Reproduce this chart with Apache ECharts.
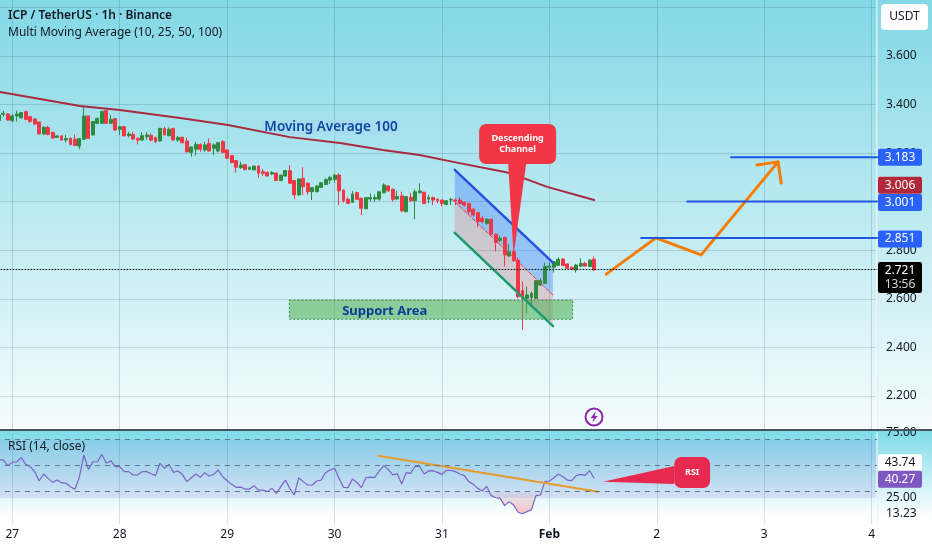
<!DOCTYPE html>
<html><head><meta charset="utf-8">
<style>html,body{margin:0;padding:0;background:#fff}#c{width:932px;height:550px}</style>
<script src="https://cdn.jsdelivr.net/npm/echarts@6/dist/echarts.min.js"></script>
</head><body><div id="c"></div>
<script>
// hours are counted from 27 Jan 00:00
const dayLabels = ['27','28','29','30','31','Feb','2','3','4'];
const firstHour = -3;
const candles = [
[3.334,3.357,3.334,3.364],[3.360,3.364,3.350,3.374],[3.361,3.336,3.334,3.364],[3.334,3.353,3.328,3.361],[3.353,3.361,3.330,3.375],
[3.345,3.367,3.343,3.369],[3.371,3.339,3.336,3.375],[3.350,3.330,3.325,3.354],[3.341,3.320,3.318,3.344],[3.328,3.279,3.277,3.330],
[3.279,3.306,3.275,3.312],[3.306,3.277,3.273,3.312],[3.286,3.262,3.260,3.288],[3.265,3.271,3.262,3.273],[3.271,3.254,3.252,3.273],
[3.254,3.260,3.243,3.275],[3.261,3.236,3.234,3.265],[3.257,3.232,3.229,3.277],[3.229,3.260,3.216,3.262],[3.257,3.353,3.255,3.391],
[3.353,3.261,3.258,3.355],[3.275,3.330,3.273,3.332],[3.323,3.343,3.320,3.346],[3.323,3.372,3.320,3.374],[3.375,3.323,3.321,3.378],
[3.323,3.339,3.320,3.357],[3.342,3.295,3.293,3.344],[3.298,3.309,3.275,3.312],[3.309,3.271,3.269,3.312],[3.273,3.279,3.265,3.288],
[3.277,3.258,3.255,3.288],[3.261,3.254,3.236,3.264],[3.254,3.272,3.250,3.286],[3.268,3.275,3.255,3.286],[3.273,3.254,3.250,3.282],
[3.264,3.247,3.243,3.268],[3.250,3.302,3.248,3.304],[3.302,3.275,3.273,3.309],[3.272,3.298,3.269,3.306],[3.301,3.254,3.252,3.306],
[3.254,3.264,3.246,3.271],[3.265,3.243,3.241,3.268],[3.250,3.205,3.203,3.264],[3.203,3.225,3.185,3.227],[3.216,3.236,3.190,3.247],
[3.236,3.216,3.206,3.240],[3.213,3.234,3.206,3.247],[3.240,3.209,3.206,3.261],[3.220,3.234,3.192,3.240],[3.209,3.243,3.203,3.247],
[3.247,3.203,3.199,3.254],[3.213,3.179,3.176,3.216],[3.190,3.161,3.158,3.192],[3.169,3.142,3.120,3.172],[3.140,3.151,3.136,3.165],
[3.153,3.133,3.129,3.155],[3.133,3.142,3.131,3.144],[3.131,3.147,3.129,3.149],[3.147,3.117,3.098,3.150],[3.124,3.117,3.106,3.135],
[3.120,3.106,3.103,3.126],[3.114,3.120,3.109,3.126],[3.118,3.087,3.085,3.121],[3.087,3.109,3.085,3.112],[3.106,3.129,3.103,3.131],
[3.128,3.076,3.073,3.151],[3.087,3.028,3.010,3.089],[3.028,3.094,3.025,3.097],[3.096,3.062,3.028,3.142],[3.076,3.041,3.028,3.080],
[3.041,3.058,3.007,3.060],[3.041,3.065,3.039,3.067],[3.059,3.078,3.057,3.080],[3.071,3.092,3.069,3.096],[3.089,3.100,3.073,3.106],
[3.092,3.109,3.078,3.114],[3.110,3.045,2.986,3.117],[3.048,3.004,2.996,3.050],[3.010,2.993,2.990,3.018],[2.997,3.032,2.996,3.045],
[3.037,3.010,3.008,3.041],[3.014,2.973,2.945,3.018],[2.971,3.017,2.969,3.019],[3.011,3.017,3.000,3.034],[3.011,3.017,3.000,3.030],
[3.011,3.041,3.004,3.043],[3.037,3.069,3.034,3.076],[3.065,3.045,3.041,3.069],[3.051,3.010,3.000,3.055],[3.011,3.021,3.010,3.045],
[3.024,2.962,2.959,3.041],[2.959,3.021,2.957,3.023],[3.018,3.004,3.000,3.037],[3.004,3.041,2.928,3.051],[3.037,3.044,3.034,3.076],
[3.039,2.993,2.990,3.041],[3.011,3.017,2.993,3.028],[3.017,3.007,2.986,3.021],[3.010,3.004,2.993,3.014],[3.007,2.993,2.982,3.010],
[2.989,3.004,2.986,3.007],[3.007,3.010,2.986,3.017],[3.007,3.003,2.986,3.014],[3.007,2.993,2.989,3.018],[2.998,2.986,2.980,3.000],
[2.993,2.959,2.949,2.996],[2.969,2.945,2.938,2.973],[2.955,2.918,2.895,2.958],[2.932,2.918,2.911,2.941],[2.911,2.928,2.905,2.932],
[2.928,2.866,2.863,2.930],[2.866,2.831,2.795,2.870],[2.840,2.849,2.834,2.859],[2.853,2.781,2.733,2.856],[2.776,2.794,2.774,2.826],
[2.794,2.757,2.753,2.800],[2.760,2.609,2.602,2.771],[2.634,2.602,2.472,2.671],[2.602,2.616,2.540,2.650],[2.606,2.623,2.579,2.630],
[2.602,2.675,2.600,2.677],[2.657,2.675,2.653,2.685],[2.664,2.733,2.661,2.749],[2.730,2.735,2.716,2.749],[2.730,2.753,2.708,2.755],
[2.738,2.763,2.735,2.771],[2.764,2.737,2.735,2.767],[2.744,2.726,2.723,2.746],[2.730,2.722,2.719,2.733],[2.719,2.739,2.708,2.744],
[2.735,2.746,2.730,2.767],[2.746,2.735,2.733,2.753],[2.733,2.760,2.731,2.762],[2.763,2.719,2.716,2.774]
];
const rsiValues = [
54.7,54.2,49.9,52.4,52.9,56.0,50.9,49.1,45.3,38.1,43.5,40.1,37.0,38.8,36.8,36.3,33.7,31.7,41.4,58.1,
47.0,52.9,52.9,58.6,51.7,53.7,49.1,49.1,45.3,45.3,42.7,42.7,45.3,45.3,43.7,42.2,51.7,47.8,50.9,44.7,
45.8,43.2,37.6,40.6,43.5,40.9,44.5,41.9,43.2,46.5,41.4,38.3,35.5,33.2,33.4,31.9,31.9,34.5,31.1,31.1,
29.9,32.4,28.6,33.7,38.8,32.4,27.3,40.6,37.6,35.0,35.0,38.1,38.8,44.5,46.5,47.8,40.1,33.2,33.0,39.6,
37.0,33.0,40.6,40.9,40.9,45.8,49.9,47.0,42.7,43.7,35.8,44.5,44.0,49.4,49.4,43.5,45.8,46.0,44.7,43.2,
46.3,46.3,45.3,43.5,42.2,37.6,35.5,32.4,30.4,34.0,26.8,25.2,24.7,19.1,22.2,19.6,14.0,12.9,14.5,16.0,
26.8,27.3,37.6,38.1,40.6,43.5,41.4,38.8,38.3,42.2,43.2,42.4,46.0,40.1
];
const ma100 = [[-2.75,3.452],[6.2,3.423],[15.1,3.394],[24,3.378],[37.5,3.345],[48.2,3.316],[62,3.266],[73.2,3.242],[82.8,3.213],[91,3.192],[98.5,3.164],[111.2,3.118],[119.5,3.061],[130,3.007]];
const channelTop = [[98.86,3.131],[120.8,2.749]];
const channelMid = [[98.86,3.0],[120.8,2.616]];
const channelBottom = [[98.86,2.872],[120.8,2.488]];
const supportZone = [[61.9,2.595],[125.2,2.516]];
const forecastPath = [[132.7,2.702],[143.8,2.851],[153.9,2.781],[171.1,3.164]];
const arrowHead = [[166.4,3.151],[171.1,3.164],[171.8,3.077]];
const levels = [[160.6,3.183],[150.8,3.001],[140.5,2.851]];
const lastPrice = 2.721;
const rsiTrend = [[81.8,57.5],[130.9,29.85]];
const rsiGuides = [70,50,30];
const rsiBand = [70,25];
const rsiAxisTicks = [75,25,13.23];
const hiddenPriceTicks = [2,3.8,4];
const priceTags = [[3.183,'3.183','#2962ff',0],[3.006,'3.006','#b2283a',-15],[3.001,'3.001','#2962ff',1],[2.851,'2.851','#2962ff',1]];
const rsiTags = [[43.74,'43.74','#ffffff','#131722',-11],[40.27,'40.27','#7e57c2','#ffffff',1]];
const calloutChannel = {box:[[104.3,3.32],[121.5,3.155]],tri:[[110.8,3.155],[114.8,3.155],[112,2.78]],lines:['Descending','Channel']};
const calloutRsi = {box:[[147.9,56.5],[155.9,32.7]],tri:[[147.9,49.6],[147.9,35.8],[132,37.5]],lines:['RSI']};

const xMin=-24, xMax=193.2, FONT='"Noto Sans",sans-serif', INK='#131722';
const GRID='rgba(50,85,105,0.2)';
const chart = echarts.init(document.getElementById('c'),null,{renderer:'canvas'});
const gradient=(stops)=>new echarts.graphic.LinearGradient(0,0,0,1,stops.map(([o,c])=>({offset:o,color:c})));

function custom(z,axis,render){
  return {type:'custom',z,xAxisIndex:axis,yAxisIndex:axis,silent:true,data:[[0,axis?50:3]],
    encode:{x:0,y:1},renderItem:(p,api)=>render(api)};
}
function polygon(pts,style,z){return custom(z,0,api=>({type:'polygon',shape:{points:pts.map(q=>api.coord(q))},style}));}
function seg(pts,axis,color,width,z,type){
  return {type:'line',xAxisIndex:axis,yAxisIndex:axis,data:pts,showSymbol:false,silent:true,z,
    lineStyle:{color,width,type:type||'solid',cap:'round',join:'round'},animation:false};
}
function callout(c,axis,color,fs){
  return custom(5,axis,api=>{
    const a=api.coord(c.box[0]),b=api.coord(c.box[1]);
    const ch=[{type:'polygon',shape:{points:c.tri.map(q=>api.coord(q))},style:{fill:color}},
      {type:'rect',shape:{x:a[0],y:a[1],width:b[0]-a[0],height:b[1]-a[1],r:7},style:{fill:color}}];
    c.lines.forEach((t,i)=>ch.push({type:'text',style:{text:t,x:(a[0]+b[0])/2,y:(a[1]+b[1])/2+(i-(c.lines.length-1)/2)*10.5,
      align:'center',verticalAlign:'middle',fill:'#fff',font:'bold '+fs+'px '+FONT}}));
    return {type:'group',children:ch};
  });
}
function tag(axis,val,text,bg,fg,dy,h,sub){
  return custom(6,axis,api=>{
    const y=api.coord([xMax,val])[1]+dy, x=api.coord([xMax,val])[0]+1;
    const ch=[{type:'rect',shape:{x,y:y-8.5,width:44,height:h||17,r:2},style:{fill:bg}},
      {type:'text',style:{text,x:x+22,y:y,align:'center',verticalAlign:'middle',fill:fg,font:'12px '+FONT}}];
    if(sub)ch.push({type:'text',style:{text:sub,x:x+22,y:y+14.5,align:'center',verticalAlign:'middle',fill:'#d6d6d6',font:'12px '+FONT}});
    return {type:'group',children:ch};
  });
}
function label(pt,text,color,font,bg){
  return custom(4,0,api=>{const p=api.coord(pt);
    return {type:'text',style:{text,x:p[0],y:p[1],align:'center',verticalAlign:'middle',fill:color,font,backgroundColor:bg,padding:bg?[1,2]:0}};});
}

const series=[
  polygon([channelTop[0],channelTop[1],channelMid[1],channelMid[0]],{fill:'rgba(41,98,255,0.3)'},1),
  polygon([channelMid[0],channelMid[1],channelBottom[1],channelBottom[0]],{fill:'rgba(242,54,69,0.2)'},1),
  {type:'candlestick',name:'ICP / TetherUS',xAxisIndex:0,yAxisIndex:0,z:2,barWidth:3.4,silent:true,
   data:candles.map((c,i)=>[i+firstHour,c[0],c[1],c[2],c[3]]),encode:{x:0,y:[1,2,3,4]},
   itemStyle:{color:'#2e8b3e',color0:'#f23645',borderColor:'#2e8b3e',borderColor0:'#f23645',borderWidth:1}},
  custom(3,0,api=>{const a=api.coord(supportZone[0]),b=api.coord(supportZone[1]);
    return {type:'rect',shape:{x:a[0],y:a[1],width:b[0]-a[0],height:b[1]-a[1]},
      style:{fill:'rgba(76,175,80,0.55)',stroke:'#3d8b45',lineWidth:1,lineDash:[2,2]}};}),
  seg(ma100,0,'#a82a3c',2,4),
  seg(channelTop,0,'#2a50e0',2.5,4),
  seg(channelBottom,0,'#1d9a6c',2.5,4),
  seg(channelMid,0,'#f23645',1,4,'dashed'),
  seg(forecastPath,0,'#f57c00',3,4),
  seg(arrowHead,0,'#f57c00',3,4),
  ...levels.map(l=>seg([[l[0],l[1]],[xMax,l[1]]],0,'#1f57e0',2,4)),
  seg([[xMin,lastPrice],[xMax,lastPrice]],0,'#131722',1,4,[1,2]),
  label([83.2,2.55],'Support Area','#0d3c96','bold 13px '+FONT),
  label([71.2,3.308],'Moving Average 100','#0d47a1','600 13.5px '+FONT,'rgba(170,210,240,0.45)'),
  callout(calloutChannel,0,'#f23645',9),
  ...priceTags.map(t=>tag(0,t[0],t[1],t[2],'#fff',t[3])),
  tag(0,lastPrice,'2.721','#000','#fff',1,31,'13:56'),
  // RSI pane
  {type:'line',xAxisIndex:1,yAxisIndex:1,z:3,silent:true,showSymbol:false,
   data:rsiValues.map((v,i)=>[i+firstHour,v]),lineStyle:{color:'#7a63c6',width:1.2},
   markLine:{silent:true,symbol:'none',label:{show:false},animation:false,
     lineStyle:{color:'#5c7a8c',width:1,type:[5,5]},data:rsiGuides.map(v=>({yAxis:v}))},
   markArea:{silent:true,animation:false,itemStyle:{color:'rgba(110,90,210,0.14)'},
     data:[[{xAxis:xMin,yAxis:rsiBand[0]},{xAxis:xMax,yAxis:rsiBand[1]}]]}},
  {type:'line',xAxisIndex:1,yAxisIndex:1,z:3,silent:true,showSymbol:false,
   data:rsiValues.map((v,i)=>[i+firstHour,Math.min(v,rsiGuides[2])]),lineStyle:{width:0},
   areaStyle:{origin:rsiGuides[2],color:gradient([[0,'rgba(242,54,69,0.05)'],[1,'rgba(242,54,69,0.45)']])}},
  seg(rsiTrend,1,'#e8992c',2,4),
  callout(calloutRsi,1,'#e8294f',9),
  ...rsiTags.map(t=>tag(1,t[0],t[1],t[2],t[3],t[4]))
];

chart.setOption({
  animation:false,
  textStyle:{fontFamily:FONT},
  backgroundColor:gradient([[0,'#82d8e6'],[430/550,'#f6fcfd'],[1,'#ffffff']]),
  grid:[{left:-95.1,width:972.1,top:-41.14,height:485.72,containLabel:false,outerBoundsMode:'none'},
        {left:-95.1,width:972.1,top:433,height:91,containLabel:false,outerBoundsMode:'none'}],
  xAxis:[
   {type:'value',gridIndex:0,min:xMin,max:xMax,interval:24,axisLine:{show:false},axisTick:{show:false},axisLabel:{show:false},
    splitLine:{show:true,lineStyle:{color:GRID,width:1}}},
   {type:'value',gridIndex:1,z:2,min:xMin,max:xMax,interval:24,axisLine:{show:false},axisTick:{show:false},
    splitLine:{show:true,lineStyle:{color:'rgba(50,85,105,0.18)',width:1}},
    axisLabel:{margin:5,fontSize:12,color:INK,showMaxLabel:false,hideOverlap:false,
      formatter:v=>{const s=dayLabels[v/24];return s==='Feb'?'{b|Feb}':(s||'');},rich:{b:{fontWeight:'bold',fontSize:12,color:INK}}}}
  ],
  yAxis:[
   {type:'value',gridIndex:0,position:'right',min:2,max:4,interval:0.2,axisTick:{show:false},
    axisLine:{show:true,onZero:false,lineStyle:{color:'rgba(255,255,255,0.75)',width:1.5}},
    splitLine:{show:true,lineStyle:{color:GRID,width:1}},
    axisLabel:{inside:false,margin:9,fontSize:12,color:INK,formatter:v=>hiddenPriceTicks.some(t=>Math.abs(v-t)<1e-6)?'':v.toFixed(3)}},
   {type:'value',gridIndex:1,z:2,position:'right',min:5,max:75,axisTick:{show:false},splitLine:{show:false},
    axisLine:{show:true,onZero:false,lineStyle:{color:'rgba(255,255,255,0.75)',width:1.5}},
    axisLabel:{margin:9,fontSize:12,color:INK,customValues:rsiAxisTicks,formatter:v=>v.toFixed(2)}}
  ],
  graphic:{elements:[
    {type:'rect',z:1,silent:true,shape:{x:0,y:430,width:932,height:120},
     style:{fill:new echarts.graphic.LinearGradient(0,0,0,1,[{offset:0,color:'#7cdbe8'},{offset:0.72,color:'#ffffff'},{offset:1,color:'#ffffff'}])}},
    {type:'line',z:20,silent:true,shape:{x1:0,y1:430,x2:932,y2:430},style:{stroke:'#46545c',lineWidth:2}},
    {type:'rect',z:20,silent:true,shape:{x:881,y:4,width:47,height:26,r:4},style:{fill:'#ffffff'}},
    {type:'text',z:21,silent:true,style:{text:'USDT',x:904.5,y:17,align:'center',verticalAlign:'middle',fill:INK,font:'12px '+FONT}},
    {type:'text',z:21,silent:true,style:{text:'ICP / TetherUS · 1h · Binance',x:8,y:16,verticalAlign:'middle',fill:INK,font:'600 12px '+FONT}},
    {type:'text',z:21,silent:true,style:{text:'Multi Moving Average (10, 25, 50, 100)',x:8,y:33,verticalAlign:'middle',fill:INK,font:'12px '+FONT}},
    {type:'text',z:21,silent:true,style:{text:'RSI (14, close)',x:8,y:447,verticalAlign:'middle',fill:INK,font:'12px '+FONT}},
    {type:'circle',z:20,silent:true,shape:{cx:594,cy:417,r:8.5},style:{fill:'rgba(255,255,255,0.4)',stroke:'#8e24aa',lineWidth:2}},
    {type:'polygon',z:20,silent:true,shape:{points:[[595.8,411.5],[590.5,418],[593.6,418],[592.4,422.5],[597.6,416],[594.6,416]]},style:{fill:'#8e24aa'}}
  ]},
  series
});
</script></body></html>
